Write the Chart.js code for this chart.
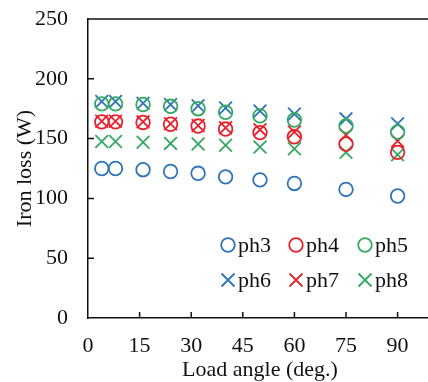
<!DOCTYPE html>
<html>
<head>
<meta charset="utf-8">
<script src="https://cdn.jsdelivr.net/npm/chart.js@4"></script>
<style>
  html, body { margin: 0; padding: 0; background: #fff; overflow: hidden; }
  #wrap { width: 440px; height: 382px; }
</style>
</head>
<body>
<div id="wrap"><canvas id="lossChart" width="440" height="382"></canvas></div>
<script>
const angles = [4, 8, 16, 24, 32, 40, 50, 60, 75, 90];
const ph3 = [125, 125, 124, 122.5, 121, 118, 115.5, 112.5, 107.5, 102];
const ph4 = [164, 164, 163.5, 162, 160.5, 158, 155, 151.5, 145.5, 138.5];
const ph5 = [179, 179, 178.5, 177, 175, 172, 169, 165.5, 160.5, 155.5];
const ph6 = [181, 181, 179.5, 178.5, 177.5, 175.5, 173, 170.5, 166.5, 162.5];
const ph7 = [164.5, 164.5, 164, 162.5, 161, 159, 157.5, 155.5, 153, 148];
const ph8 = [147.5, 147.5, 147, 146, 145.5, 144.5, 143, 141.5, 138.5, 136.5];
const xTicks = [0, 15, 30, 45, 60, 75, 90];

const blue = '#2e74b8';
const red = '#e8212b';
const green = '#35a862';
const serif = '"Liberation Serif", "Times New Roman", serif';

function pts(ys) {
    return angles.map((a, i) => ({ x: a, y: ys[i] }));
}

function series(label, ys, color, style) {
    const r = style === 'circle' ? 6.8 : 9;
    return {
        label: label,
        data: pts(ys),
        pointStyle: style,
        pointRadius: r,
        pointHoverRadius: r,
        pointBorderWidth: 1.8,
        borderColor: color,
        backgroundColor: 'rgba(0,0,0,0)',
        showLine: false
    };
}

// inward tick marks + top border line
const frame = {
    id: 'frame',
    afterDatasetsDraw(chart) {
        const { ctx, chartArea, scales } = chart;
        ctx.save();
        ctx.strokeStyle = '#111';
        ctx.lineWidth = 1.5;
        ctx.beginPath();
        ctx.moveTo(chartArea.left, chartArea.top);
        ctx.lineTo(chartArea.right, chartArea.top);
        scales.x.ticks.forEach(t => {
            if (t.value === 0) return;
            const px = scales.x.getPixelForValue(t.value);
            ctx.moveTo(px, chartArea.bottom);
            ctx.lineTo(px, chartArea.bottom - 6);
        });
        scales.y.ticks.forEach(t => {
            if (t.value === 0 || t.value === 250) return;
            const py = scales.y.getPixelForValue(t.value);
            ctx.moveTo(chartArea.left, py);
            ctx.lineTo(chartArea.left + 6, py);
        });
        ctx.stroke();
        ctx.restore();
    }
};

// legend in the lower right of the plot, 3 columns x 2 rows
const innerLegend = {
    id: 'innerLegend',
    afterDraw(chart) {
        const { ctx } = chart;
        const cols = [228, 296, 365];
        const rows = [245, 280];
        ctx.save();
        ctx.font = '22px ' + serif;
        ctx.textBaseline = 'middle';
        ctx.fillStyle = '#111';
        chart.data.datasets.forEach((ds, i) => {
            const cx = cols[i % 3];
            const cy = rows[Math.floor(i / 3)];
            ctx.strokeStyle = ds.borderColor;
            ctx.lineWidth = 1.8;
            ctx.beginPath();
            if (ds.pointStyle === 'circle') {
                ctx.arc(cx, cy, 6.8, 0, Math.PI * 2);
            } else {
                const r = 6.5;
                ctx.moveTo(cx - r, cy - r); ctx.lineTo(cx + r, cy + r);
                ctx.moveTo(cx + r, cy - r); ctx.lineTo(cx - r, cy + r);
            }
            ctx.stroke();
            ctx.fillText(ds.label, cx + 10, cy + 1);
        });
        ctx.restore();
    }
};

const ctx = document.getElementById('lossChart').getContext('2d');
new Chart(ctx, {
    type: 'scatter',
    data: {
        datasets: [
            series('ph3', ph3, blue, 'circle'),
            series('ph4', ph4, red, 'circle'),
            series('ph5', ph5, green, 'circle'),
            series('ph6', ph6, blue, 'crossRot'),
            series('ph7', ph7, red, 'crossRot'),
            series('ph8', ph8, green, 'crossRot')
        ]
    },
    options: {
        responsive: false,
        animation: false,
        layout: { autoPadding: false, padding: { top: 19, right: 8, bottom: 0, left: 0 } },
        plugins: {
            legend: { display: false },
            tooltip: { enabled: false }
        },
        scales: {
            x: {
                type: 'linear',
                min: 0,
                max: 100,
                afterBuildTicks: scale => {
                    scale.ticks = xTicks.map(v => ({ value: v }));
                },
                afterFit: scale => {
                    scale.height = 64;
                    scale.paddingLeft = 0;
                    scale.paddingRight = 0;
                },
                grid: { drawOnChartArea: false, drawTicks: false },
                border: { display: true, color: '#111', width: 1.5 },
                ticks: {
                    padding: 15,
                    color: '#111',
                    font: { family: serif, size: 22 }
                },
                title: {
                    display: true,
                    text: 'Load angle (deg.)',
                    color: '#111',
                    font: { family: serif, size: 22 },
                    padding: { top: 0, bottom: -1 }
                }
            },
            y: {
                min: 0,
                max: 250,
                afterFit: scale => {
                    scale.width = 88;
                    scale.paddingTop = 0;
                    scale.paddingBottom = 0;
                },
                grid: { drawOnChartArea: false, drawTicks: false },
                border: { display: true, color: '#111', width: 1.5 },
                ticks: {
                    stepSize: 50,
                    padding: 20,
                    color: '#111',
                    font: { family: serif, size: 22 }
                },
                title: {
                    display: true,
                    text: 'Iron loss (W)',
                    color: '#111',
                    font: { family: serif, size: 22 },
                    padding: { top: 12, bottom: 0 }
                }
            }
        }
    },
    plugins: [frame, innerLegend]
});
</script>
</body>
</html>
